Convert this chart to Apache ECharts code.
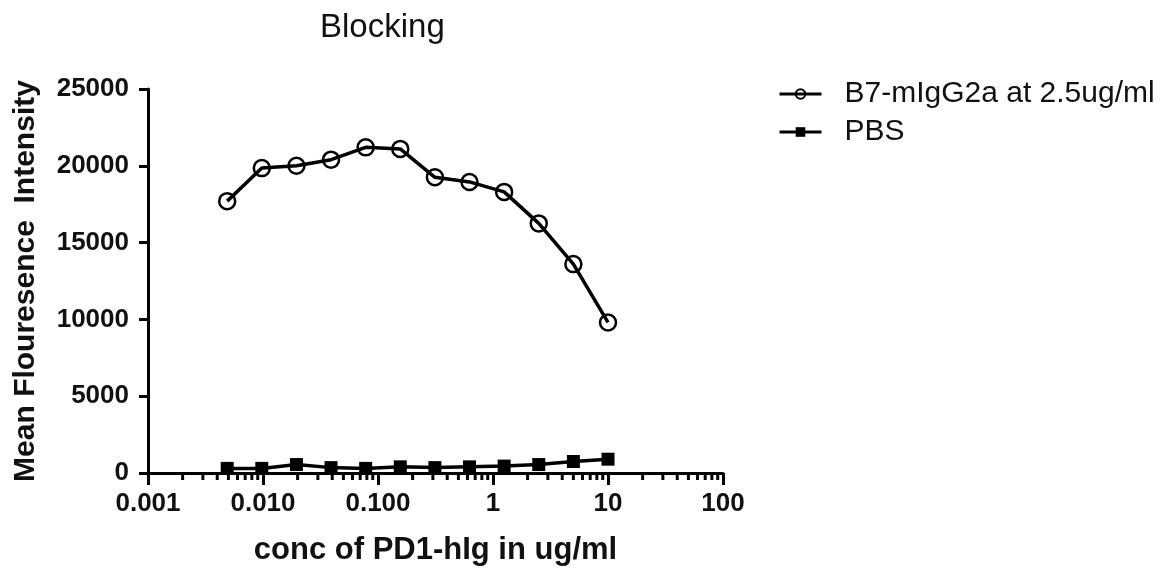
<!DOCTYPE html>
<html>
<head>
<meta charset="utf-8">
<script src="https://cdn.jsdelivr.net/npm/echarts@6/dist/echarts.min.js"></script>
<style>
  html, body { margin: 0; padding: 0; background: #fff; }
  #chart { width: 1174px; height: 574px; }
</style>
</head>
<body>
<div id="chart"></div>
<script>
// PD1-hIg concentration (ug/ml), two-fold dilution series
const concentrations = [0.0048828, 0.0097656, 0.0195313, 0.0390625, 0.078125, 0.15625, 0.3125, 0.625, 1.25, 2.5, 5, 10];
// Mean fluorescence intensity per condition
const b7Values = [17700, 19850, 20000, 20400, 21200, 21100, 19250, 18950, 18300, 16250, 13600, 9800];
const pbsValues = [300, 300, 550, 350, 300, 400, 350, 400, 450, 550, 750, 900];
const seriesNames = ['B7-mIgG2a at 2.5ug/ml', 'PBS'];
// Tick labels of the log axis, one per decade
const xTickLabels = { '0.001': '0.001', '0.01': '0.010', '0.1': '0.100', '1': '1', '10': '10', '100': '100' };
const yTicks = [0, 5000, 10000, 15000, 20000, 25000];

const FONT = '"Liberation Sans", Arial, Helvetica, sans-serif';

// Intermediate log ticks (2..9 within every decade)
const minorTicks = [];
for (let e = -3; e < 2; e++) {
  for (let m = 2; m <= 9; m++) minorTicks.push([m * Math.pow(10, e), 0]);
}

const chart = echarts.init(document.getElementById('chart'), null, { renderer: 'canvas' });

chart.setOption({
  animation: false,
  backgroundColor: '#ffffff',
  title: {
    text: 'Blocking',
    left: 315,
    top: 6,
    textStyle: { fontFamily: FONT, fontSize: 33, fontWeight: 'normal', color: '#111' }
  },
  legend: {
    orient: 'vertical',
    left: 773,
    top: 74,
    itemWidth: 42,
    itemHeight: 12,
    itemGap: 8,
    data: seriesNames,
    lineStyle: { width: 3, color: '#000' },
    textStyle: { fontFamily: FONT, fontSize: 30, color: '#111', lineHeight: 30, padding: [0, 0, 0, 18] }
  },
  grid: { left: 148, right: 451, top: 89, bottom: 101, containLabel: false },
  xAxis: {
    type: 'log',
    logBase: 10,
    min: 0.001,
    max: 100,
    name: 'conc of PD1-hIg in ug/ml',
    nameLocation: 'middle',
    nameGap: 62,
    nameTextStyle: { fontFamily: FONT, fontSize: 31, fontWeight: 'bold', color: '#111' },
    axisLine: { show: true, onZero: false, lineStyle: { color: '#000', width: 3 } },
    axisTick: { show: true, inside: false, length: 12, lineStyle: { color: '#000', width: 3 } },
    splitLine: { show: false },
    axisLabel: {
      margin: 18,
      fontFamily: FONT,
      fontSize: 26,
      fontWeight: 'bold',
      color: '#111',
      formatter: function (v) {
        const k = String(Number(v.toPrecision(6)));
        return xTickLabels[k] !== undefined ? xTickLabels[k] : '';
      }
    }
  },
  yAxis: {
    type: 'value',
    min: 0,
    max: 25000,
    interval: 5000,
    name: 'Mean Flouresence  Intensity',
    nameLocation: 'middle',
    nameGap: 107,
    nameTextStyle: { fontFamily: FONT, fontSize: 30, fontWeight: 'bold', color: '#111' },
    axisLine: { show: true, lineStyle: { color: '#000', width: 3 } },
    axisTick: { show: true, inside: false, length: 9, lineStyle: { color: '#000', width: 3 } },
    splitLine: { show: false },
    axisLabel: {
      margin: 19,
      fontFamily: FONT,
      fontSize: 26,
      fontWeight: 'bold',
      color: '#111',
      formatter: function (v) { return yTicks.indexOf(v) >= 0 ? String(v) : ''; }
    }
  },
  series: [
    {
      name: 'minorTicks',
      type: 'custom',
      silent: true,
      clip: false,
      z: 1,
      data: minorTicks,
      renderItem: function (params, api) {
        const p = api.coord([api.value(0), 0]);
        return {
          type: 'line',
          shape: { x1: p[0], y1: p[1], x2: p[0], y2: p[1] + 7 },
          style: { stroke: '#000', lineWidth: 3 }
        };
      }
    },
    {
      name: seriesNames[0],
      type: 'line',
      z: 3,
      data: concentrations.map((c, i) => [c, b7Values[i]]),
      symbol: 'circle',
      symbolSize: 16,
      showAllSymbol: true,
      lineStyle: { color: '#000', width: 3.5 },
      itemStyle: { color: 'rgba(255,255,255,0)', borderColor: '#000', borderWidth: 2.5 },
      emphasis: { disabled: true }
    },
    {
      name: seriesNames[1],
      type: 'line',
      z: 3,
      data: concentrations.map((c, i) => [c, pbsValues[i]]),
      symbol: 'rect',
      symbolSize: 13,
      showAllSymbol: true,
      lineStyle: { color: '#000', width: 3.5 },
      itemStyle: { color: '#000', borderColor: '#000', borderWidth: 0 },
      emphasis: { disabled: true }
    }
  ]
});
</script>
</body>
</html>
